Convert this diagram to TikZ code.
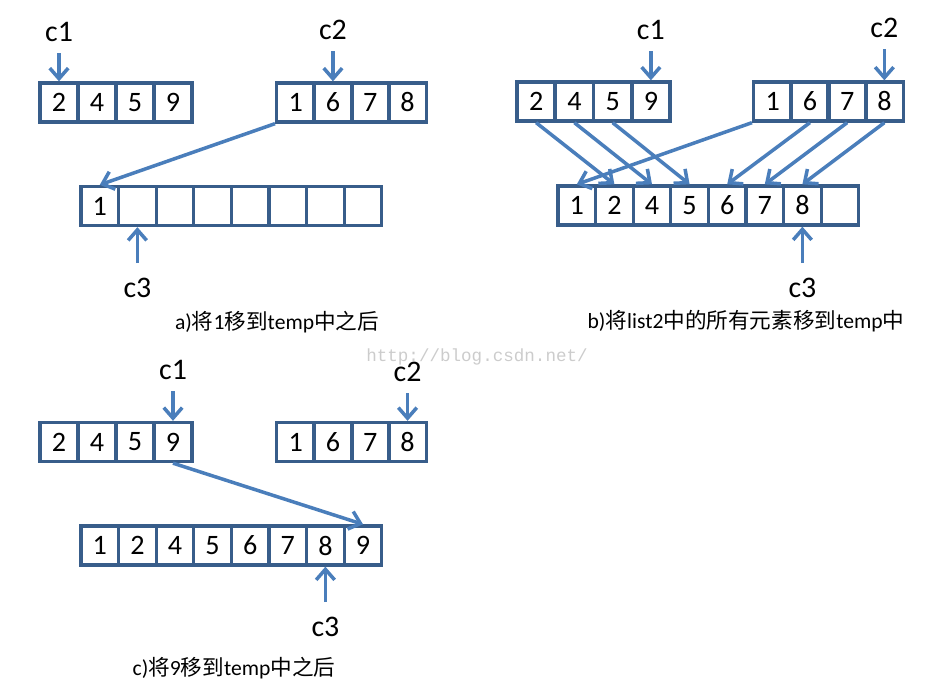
\documentclass[tikz,border=0pt]{standalone}
\usepackage{fontspec}
\setmainfont{Carlito}
\newfontfamily\cjkfont{Noto Sans CJK SC}
\newfontfamily\wmfont{Liberation Mono}
\newcommand\zh[1]{{\cjkfont #1}}
\usetikzlibrary{arrows.meta}
\definecolor{arrowblue}{RGB}{74,126,187}
\definecolor{boxblue}{RGB}{56,93,138}

\begin{document}
\begin{tikzpicture}[x=0.02cm, y=-0.02cm, >={Straight Barb[length=6pt,width=10.5pt]},
    cell/.style={draw=boxblue, line width=1.9pt, minimum width=0.76cm, minimum height=0.78cm,
      inner sep=0pt, font=\fontsize{16}{16}\selectfont},
    tcell/.style={cell, minimum width=0.752cm},
    ptr/.style={->, draw=arrowblue, line width=2pt},
    lbl/.style={font=\fontsize{17}{17}\selectfont},
    caption/.style={font=\fontsize{12.3}{14}\selectfont}]
  \useasboundingbox (0,0) rectangle (934,696);
  % a) after moving 1
  \foreach \v [count=\i] in {2,4,5,9}
    \node[cell] (a1\i) at ({40+38*(\i-0.5)}, 102.5) {\v};
  \foreach \v [count=\i] in {1,6,7,8}
    \node[cell] (a2\i) at ({277+37.3*(\i-0.5)}, 102.5) {\v};
  \foreach \v [count=\i] in {1,{},{},{},{},{},{},{}}
    \node[tcell] (ta\i) at ({81+37.6*(\i-0.5)}, 206) {\v};
  \node[lbl] (ac1) at (a11 |- 0,32) {c1};
  \node[lbl] (ac2) at (a22 |- 0,30) {c2};
  \node[lbl] (ac3) at (ta2 |- 0,288) {c3};
  \draw[ptr, shorten <=3pt] (ac1.south) -- (a11.north);
  \draw[ptr, shorten <=3pt] (ac2.south) -- (a22.north);
  \draw[ptr, shorten <=5pt] (ac3.north) -- (ta2.south);
  \draw[ptr] (a21.south west) -- (ta1.north);
  \node[caption] (capa) at (277,322) {a)\zh{将}1\zh{移到}temp\zh{中之后}};

  % b) all of list2 moved
  \foreach \v [count=\i] in {2,4,5,9}
    \node[cell] (b1\i) at ({517+38.25*(\i-0.5)}, 101.5) {\v};
  \foreach \v [count=\i] in {1,6,7,8}
    \node[cell] (b2\i) at ({754+37.25*(\i-0.5)}, 101.5) {\v};
  \foreach \v [count=\i] in {1,2,4,5,6,7,8,{}}
    \node[tcell] (tb\i) at ({558+37.6*(\i-0.5)}, 205.5) {\v};
  \node[lbl] (bc1) at (b14 |- 0,30) {c1};
  \node[lbl] (bc2) at (b24 |- 0,28) {c2};
  \node[lbl] (bc3) at (tb7 |- 0,288) {c3};
  \draw[ptr, shorten <=3pt] (bc1.south) -- (b14.north);
  \draw[ptr, shorten <=3pt] (bc2.south) -- (b24.north);
  \draw[ptr, shorten <=5pt] (bc3.north) -- (tb7.south);
  \foreach \s/\t in {1/2,2/3,3/4}
    \draw[ptr] (b1\s.south) -- (tb\t.north);
  \draw[ptr] (b21.south west) -- (tb1.north);
  \foreach \s/\t in {2/5,3/6,4/7}
    \draw[ptr] (b2\s.south) -- (tb\t.north);
  \node[caption] (capb) at (746,321) {b)\zh{将}list2\zh{中的所有元素移到}temp\zh{中}};

  % watermark
  \node[text=black!20, font=\wmfont\fontsize{10}{10}\selectfont] (wm) at (477,357) {http://blog.csdn.net/};

  % c) after moving 9
  \foreach \v [count=\i] in {2,4,5,9}
    \node[cell] (c1\i) at ({40+38*(\i-0.5)}, 442) {\v};
  \foreach \v [count=\i] in {1,6,7,8}
    \node[cell] (c2\i) at ({277+37.3*(\i-0.5)}, 442) {\v};
  \foreach \v [count=\i] in {1,2,4,5,6,7,8,9}
    \node[tcell] (tc\i) at ({81+37.6*(\i-0.5)}, 545.5) {\v};
  \node[lbl] (cc1) at (c14 |- 0,370) {c1};
  \node[lbl] (cc2) at (c24 |- 0,372) {c2};
  \node[lbl] (cc3) at (tc7 |- 0,627) {c3};
  \draw[ptr, shorten <=3pt] (cc1.south) -- (c14.north);
  \draw[ptr, shorten <=3pt] (cc2.south) -- (c24.north);
  \draw[ptr, shorten <=5pt] (cc3.north) -- (tc7.south);
  \draw[ptr] (c14.south) -- (tc8.north);
  \node[caption] (capc) at (234,668) {c)\zh{将}9\zh{移到}temp\zh{中之后}};
\end{tikzpicture}
\end{document}
